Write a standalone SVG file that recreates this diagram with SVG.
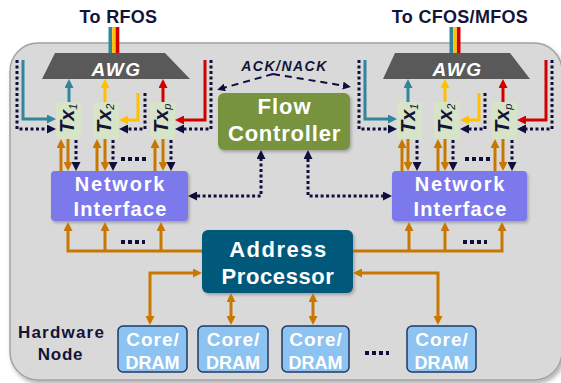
<svg xmlns="http://www.w3.org/2000/svg" width="561" height="383" viewBox="0 0 561 383">
<style>
.t{font-family:"Liberation Sans",Arial,Helvetica,sans-serif;font-weight:bold}
.w{fill:#ffffff}
.n{fill:#141438}
.c{text-anchor:middle}
.it{font-style:italic}
.dot{fill:none;stroke:#0f0f3c;stroke-width:3;stroke-dasharray:3 2.5}
.ell{fill:none;stroke:#0f0f3c;stroke-width:4;stroke-dasharray:4 3}
.or{fill:none;stroke:#c87800;stroke-width:3}
.te{fill:none;stroke:#31859c;stroke-width:3}
.ye{fill:none;stroke:#ffc000;stroke-width:3}
.re{fill:none;stroke:#d00000;stroke-width:3}
.ack{fill:none;stroke:#0f0f3c;stroke-width:2;stroke-dasharray:7 5}
.tx{fill:#d8e4c8}
.core{fill:#8dc3f0;stroke:#1f3864;stroke-width:1.5}
</style>
<defs>
<filter id="sh" x="-10%" y="-10%" width="130%" height="130%">
<feDropShadow dx="1.5" dy="2" stdDeviation="1.5" flood-color="#000" flood-opacity="0.25"/>
</filter>
<filter id="shb" x="-5%" y="-5%" width="115%" height="115%">
<feDropShadow dx="2" dy="3" stdDeviation="2" flood-color="#000" flood-opacity="0.3"/>
</filter>
<marker id="mO" viewBox="0 0 10 10" refX="6" refY="5" markerWidth="9" markerHeight="9" markerUnits="userSpaceOnUse" orient="auto-start-reverse"><path d="M0,0L10,5L0,10z" fill="#c87800"/></marker>
<marker id="mN" viewBox="0 0 10 10" refX="6" refY="5" markerWidth="9" markerHeight="9" markerUnits="userSpaceOnUse" orient="auto-start-reverse"><path d="M0,0L10,5L0,10z" fill="#0f0f3c"/></marker>
<marker id="mT" viewBox="0 0 10 10" refX="6" refY="5" markerWidth="9" markerHeight="9" markerUnits="userSpaceOnUse" orient="auto-start-reverse"><path d="M0,0L10,5L0,10z" fill="#31859c"/></marker>
<marker id="mY" viewBox="0 0 10 10" refX="6" refY="5" markerWidth="9" markerHeight="9" markerUnits="userSpaceOnUse" orient="auto-start-reverse"><path d="M0,0L10,5L0,10z" fill="#ffc000"/></marker>
<marker id="mR" viewBox="0 0 10 10" refX="6" refY="5" markerWidth="9" markerHeight="9" markerUnits="userSpaceOnUse" orient="auto-start-reverse"><path d="M0,0L10,5L0,10z" fill="#d00000"/></marker>
<marker id="mA" viewBox="0 0 10 10" refX="7" refY="5" markerWidth="8" markerHeight="8" markerUnits="userSpaceOnUse" orient="auto-start-reverse"><path d="M0,0L10,5L0,10z" fill="#0f0f3c"/></marker>
</defs>
<rect width="561" height="383" fill="#ffffff"/>

<g id="hardware-node">
<rect x="10" y="43" width="552" height="337" rx="28" fill="#d9d9d9" stroke="#a3a3a3" stroke-width="1.5" filter="url(#shb)"/>
<text class="t n c" x="61.5" y="338" font-size="17" letter-spacing="1.2">Hardware</text>
<text class="t n c" x="60.5" y="360" font-size="17" letter-spacing="0.8">Node</text>
</g>

<g id="fibers">
<line x1="110.3" y1="27" x2="110.3" y2="53" stroke="#31859c" stroke-width="3.6"/>
<line x1="114" y1="27" x2="114" y2="53" stroke="#ffc000" stroke-width="3.6"/>
<line x1="117.5" y1="27" x2="117.5" y2="53" stroke="#d00000" stroke-width="3.6"/>
<line x1="451.3" y1="27" x2="451.3" y2="53" stroke="#31859c" stroke-width="3.6"/>
<line x1="455" y1="27" x2="455" y2="53" stroke="#ffc000" stroke-width="3.6"/>
<line x1="458.7" y1="27" x2="458.7" y2="53" stroke="#d00000" stroke-width="3.6"/>
<text class="t n c" x="118.5" y="23" font-size="18" letter-spacing="0.3">To RFOS</text>
<text class="t n c" x="460" y="23" font-size="18" letter-spacing="0.3">To CFOS/MFOS</text>
</g>

<g id="awg-left">
<polygon points="55,53 165,53 190,79 42,79" fill="#595959"/>
<text class="t w c it" x="116.5" y="76" font-size="19" letter-spacing="1.5">AWG</text>
</g>
<g id="awg-right">
<polygon points="395,53 510,53 530,79 383,79" fill="#595959"/>
<text class="t w c it" x="457.5" y="76" font-size="19" letter-spacing="1.5">AWG</text>
</g>

<g id="tx1-left"><rect class="tx" x="56" y="102" width="25" height="37" rx="2"/><text class="t n it" font-size="20" transform="translate(73.5,133) rotate(-90)">Tx<tspan font-size="11" dy="3" font-weight="normal">1</tspan></text></g>
<g id="tx2-left"><rect class="tx" x="93" y="102" width="26" height="37" rx="2"/><text class="t n it" font-size="20" transform="translate(110.5,133) rotate(-90)">Tx<tspan font-size="11" dy="3" font-weight="normal">2</tspan></text></g>
<g id="txp-left"><rect class="tx" x="150" y="102" width="25" height="37" rx="2"/><text class="t n it" font-size="20" transform="translate(167.5,133) rotate(-90)">Tx<tspan font-size="11" dy="3" font-weight="normal">p</tspan></text></g>
<g id="tx1-right"><rect class="tx" x="397" y="102" width="25" height="37" rx="2"/><text class="t n it" font-size="20" transform="translate(414.5,133) rotate(-90)">Tx<tspan font-size="11" dy="3" font-weight="normal">1</tspan></text></g>
<g id="tx2-right"><rect class="tx" x="434" y="102" width="26" height="37" rx="2"/><text class="t n it" font-size="20" transform="translate(452,133) rotate(-90)">Tx<tspan font-size="11" dy="3" font-weight="normal">2</tspan></text></g>
<g id="txp-right"><rect class="tx" x="491" y="102" width="26" height="37" rx="2"/><text class="t n it" font-size="20" transform="translate(508.5,133) rotate(-90)">Tx<tspan font-size="11" dy="3" font-weight="normal">p</tspan></text></g>

<g id="flow-controller">
<rect x="218" y="93" width="132" height="57" rx="6" fill="#77933c" filter="url(#sh)"/>
<text class="t w c" x="284.5" y="114" font-size="22" letter-spacing="1">Flow</text>
<text class="t w c" x="284.5" y="141" font-size="22" letter-spacing="0.8">Controller</text>
</g>

<g id="ni-left">
<rect x="51" y="171" width="137" height="50" rx="4" fill="#7b79ec" filter="url(#sh)"/>
<text class="t w c" x="120.5" y="191" font-size="20" letter-spacing="1.8">Network</text>
<text class="t w c" x="120.5" y="216" font-size="20" letter-spacing="1.2">Interface</text>
</g>
<g id="ni-right">
<rect x="392" y="171" width="135" height="50" rx="4" fill="#7b79ec" filter="url(#sh)"/>
<text class="t w c" x="460.5" y="191" font-size="20" letter-spacing="1.8">Network</text>
<text class="t w c" x="460.5" y="216" font-size="20" letter-spacing="1.2">Interface</text>
</g>

<g id="address-processor">
<rect x="202" y="230" width="151" height="63" rx="6" fill="#02587a" filter="url(#sh)"/>
<text class="t w c" x="278.5" y="257" font-size="22" letter-spacing="1.5">Address</text>
<text class="t w c" x="278" y="284" font-size="22" letter-spacing="0.6">Processor</text>
</g>

<g id="core1"><rect class="core" x="118" y="326" width="69" height="46" rx="5"/><text class="t w c" x="153" y="346" font-size="19" letter-spacing="1">Core/</text><text class="t w c" x="152.5" y="369" font-size="18">DRAM</text></g>
<g id="core2"><rect class="core" x="198" y="326" width="70" height="46" rx="5"/><text class="t w c" x="233.5" y="346" font-size="19" letter-spacing="1">Core/</text><text class="t w c" x="233" y="369" font-size="18">DRAM</text></g>
<g id="core3"><rect class="core" x="282" y="326" width="67" height="46" rx="5"/><text class="t w c" x="316" y="346" font-size="19" letter-spacing="1">Core/</text><text class="t w c" x="315.5" y="369" font-size="18">DRAM</text></g>
<g id="core4"><rect class="core" x="407" y="326" width="69" height="46" rx="5"/><text class="t w c" x="442" y="346" font-size="19" letter-spacing="1">Core/</text><text class="t w c" x="441.5" y="369" font-size="18">DRAM</text></g>

<g id="connectors">
<path class="te" d="M23,60V119H52.4" marker-end="url(#mT)"/>
<path class="dot" d="M17,60V129H52.4" marker-end="url(#mN)"/>
<path class="ye" d="M138,93V120H122.6" marker-end="url(#mY)"/>
<path class="dot" d="M145,93V129H122.6" marker-end="url(#mN)"/>
<path class="re" d="M205,60V120H178.6" marker-end="url(#mR)"/>
<path class="dot" d="M211,60V129H178.6" marker-end="url(#mN)"/>
<path class="te" d="M69,102V82.6" marker-end="url(#mT)"/>
<path class="ye" d="M105,102V82.6" marker-end="url(#mY)"/>
<path class="re" d="M163,102V82.6" marker-end="url(#mR)"/>
<path class="te" d="M365,60V119H393.4" marker-end="url(#mT)"/>
<path class="dot" d="M359,60V129H393.4" marker-end="url(#mN)"/>
<path class="ye" d="M479,93V120H463.6" marker-end="url(#mY)"/>
<path class="dot" d="M485,93V129H463.6" marker-end="url(#mN)"/>
<path class="re" d="M546,60V120H520.6" marker-end="url(#mR)"/>
<path class="dot" d="M552,60V129H520.6" marker-end="url(#mN)"/>
<path class="te" d="M408,102V82.6" marker-end="url(#mT)"/>
<path class="ye" d="M445,102V82.6" marker-end="url(#mY)"/>
<path class="re" d="M503,102V82.6" marker-end="url(#mR)"/>
<path class="ack" d="M273,74L219.5,89" marker-end="url(#mA)"/>
<path class="ack" d="M273,74L348.5,86.5" marker-end="url(#mA)"/>
<text class="t n c it" x="284.5" y="71" font-size="14" letter-spacing="1.5">ACK/NACK</text>
<path class="or" d="M61,171V142.6" marker-end="url(#mO)"/>
<path class="or" d="M68,139V167.4" marker-end="url(#mO)"/>
<path class="dot" d="M76,140V167.4" marker-end="url(#mN)"/>
<path class="or" d="M97,171V142.6" marker-end="url(#mO)"/>
<path class="or" d="M105,139V167.4" marker-end="url(#mO)"/>
<path class="dot" d="M113,140V167.4" marker-end="url(#mN)"/>
<path class="or" d="M155,171V142.6" marker-end="url(#mO)"/>
<path class="or" d="M163,139V167.4" marker-end="url(#mO)"/>
<path class="dot" d="M171,140V167.4" marker-end="url(#mN)"/>
<path class="ell" d="M121,159H147"/>
<path class="or" d="M402,171V142.6" marker-end="url(#mO)"/>
<path class="or" d="M408,139V167.4" marker-end="url(#mO)"/>
<path class="dot" d="M417,140V167.4" marker-end="url(#mN)"/>
<path class="or" d="M438,171V142.6" marker-end="url(#mO)"/>
<path class="or" d="M445,139V167.4" marker-end="url(#mO)"/>
<path class="dot" d="M453,140V167.4" marker-end="url(#mN)"/>
<path class="or" d="M495,171V142.6" marker-end="url(#mO)"/>
<path class="or" d="M503,139V167.4" marker-end="url(#mO)"/>
<path class="dot" d="M512,140V167.4" marker-end="url(#mN)"/>
<path class="ell" d="M465,159H491"/>
<path class="dot" d="M191.6,196H261V153.6" marker-start="url(#mN)" marker-end="url(#mN)"/>
<path class="dot" d="M308,153.6V196H388.4" marker-start="url(#mN)" marker-end="url(#mN)"/>
<path class="or" d="M202,251H68V225.6" marker-end="url(#mO)"/>
<path class="or" d="M105,251V225.6" marker-end="url(#mO)"/>
<path class="or" d="M161,251V225.6" marker-end="url(#mO)"/>
<path class="ell" d="M121,242H145"/>
<path class="or" d="M353,251H502V225.6" marker-end="url(#mO)"/>
<path class="or" d="M409,251V225.6" marker-end="url(#mO)"/>
<path class="or" d="M445,251V225.6" marker-end="url(#mO)"/>
<path class="ell" d="M463,242H487"/>
<path class="or" d="M150,321.4V273H198.4" marker-start="url(#mO)" marker-end="url(#mO)"/>
<path class="or" d="M438,321.4V273H356.6" marker-start="url(#mO)" marker-end="url(#mO)"/>
<path class="or" d="M231,296.6V321.4" marker-start="url(#mO)" marker-end="url(#mO)"/>
<path class="or" d="M313,296.6V321.4" marker-start="url(#mO)" marker-end="url(#mO)"/>
<path class="ell" d="M365,353H389"/>
</g>
</svg>
